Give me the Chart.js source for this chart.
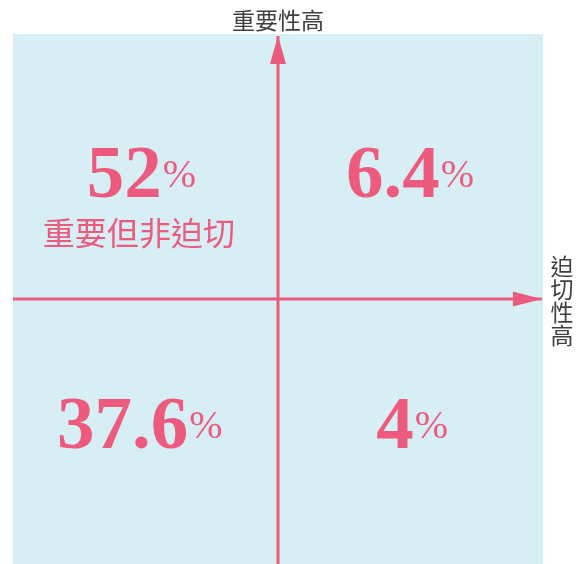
<!DOCTYPE html>
<html>
<head>
<meta charset="utf-8">
<script src="https://cdn.jsdelivr.net/npm/chart.js@4"></script>
<style>
  html, body { margin: 0; padding: 0; background: #ffffff; }
  #wrap { width: 579px; height: 564px; }
</style>
</head>
<body>
<div id="wrap"><canvas id="c" width="579" height="564"></canvas></div>
<script>
// ---- data ----
const quadrantValues = ['52', '6.4', '37.6', '4'];      // top-left, top-right, bottom-left, bottom-right
const quadrantUnit = '%';
const quadrantNote = ['重要但非迫切', '', '', ''];
const yAxisTitle = '重要性高';
const xAxisTitle = '迫切性高';
const horizontalAxisPts = [{x: -1, y: 0}, {x: 0.996, y: 0}];
const verticalAxisPts = [{x: 0, y: -1}, {x: 0, y: 0.992}];

const PINK = '#ec5a7e';
const BLUE = '#d7eef4';
const DARK = '#3f3f3f';

const bgPlugin = {
  id: 'bg',
  beforeDraw(chart) {
    const {ctx, chartArea: a} = chart;
    ctx.save();
    ctx.fillStyle = BLUE;
    ctx.fillRect(a.left, a.top, a.right - a.left, a.bottom - a.top);
    ctx.restore();
  }
};

const arrowPlugin = {
  id: 'arrows',
  afterDatasetsDraw(chart) {
    const ctx = chart.ctx;
    ctx.save();
    ctx.fillStyle = PINK;
    // horizontal arrow (dataset 0) - points right
    const h = chart.getDatasetMeta(0).data;
    const hp = h[h.length - 1];
    ctx.beginPath();
    ctx.moveTo(hp.x, hp.y);
    ctx.lineTo(hp.x - 29, hp.y - 7.5);
    ctx.lineTo(hp.x - 29, hp.y + 7.5);
    ctx.closePath();
    ctx.fill();
    // vertical arrow (dataset 1) - points up
    const v = chart.getDatasetMeta(1).data;
    const vp = v[v.length - 1];
    ctx.beginPath();
    ctx.moveTo(vp.x, vp.y);
    ctx.lineTo(vp.x - 8, vp.y + 28);
    ctx.lineTo(vp.x + 8, vp.y + 28);
    ctx.closePath();
    ctx.fill();
    ctx.restore();
  }
};

const textPlugin = {
  id: 'quadText',
  afterDraw(chart, args, opts) {
    const ctx = chart.ctx;
    const xs = chart.scales.x, ys = chart.scales.y;
    ctx.save();
    // quadrant numbers
    quadrantValues.forEach((val, i) => {
      const cx = xs.getPixelForValue(opts.cx[i]);
      const by = ys.getPixelForValue(opts.by[i]);
      ctx.font = 'bold 75px "Liberation Serif", "Times New Roman", serif';
      const w1 = ctx.measureText(val).width;
      ctx.font = '40px "Liberation Serif", "Times New Roman", serif';
      const w2 = ctx.measureText(quadrantUnit).width;
      const total = w1 + 1 + w2;
      const sx = cx - total / 2;
      ctx.fillStyle = PINK;
      ctx.textAlign = 'left';
      ctx.textBaseline = 'alphabetic';
      ctx.font = 'bold 75px "Liberation Serif", "Times New Roman", serif';
      ctx.fillText(val, sx, by);
      ctx.font = '40px "Liberation Serif", "Times New Roman", serif';
      ctx.fillText(quadrantUnit, sx + w1 + 1, by - 10);
      if (quadrantNote[i]) {
        ctx.font = '32px "Noto Sans CJK TC", "Noto Sans CJK SC", sans-serif';
        ctx.textAlign = 'center';
        ctx.textBaseline = 'middle';
        ctx.fillText(quadrantNote[i], xs.getPixelForValue(opts.noteX[i]), ys.getPixelForValue(opts.noteY[i]));
      }
    });
    // axis titles
    ctx.fillStyle = DARK;
    ctx.font = '23px "Noto Sans CJK TC", "Noto Sans CJK SC", sans-serif';
    ctx.textAlign = 'center';
    ctx.textBaseline = 'middle';
    ctx.fillText(yAxisTitle, xs.getPixelForValue(0), 20);
    const rx = chart.chartArea.right + 19;
    const y0 = ys.getPixelForValue(0);
    const chars = Array.from(xAxisTitle);
    chars.forEach((ch, i) => {
      ctx.fillText(ch, rx, y0 + 2 + (i - (chars.length - 1) / 2) * 23);
    });
    ctx.restore();
  }
};

new Chart(document.getElementById('c'), {
  type: 'scatter',
  data: {
    datasets: [
      { data: horizontalAxisPts, showLine: true, borderColor: PINK, borderWidth: 3, pointRadius: 0, pointHoverRadius: 0 },
      { data: verticalAxisPts, showLine: true, borderColor: PINK, borderWidth: 3, pointRadius: 0, pointHoverRadius: 0 }
    ]
  },
  options: {
    responsive: false,
    animation: false,
    devicePixelRatio: 1,
    layout: { padding: { left: 13, right: 36, top: 34, bottom: 0 } },
    scales: {
      x: { type: 'linear', min: -1, max: 1, display: false },
      y: { type: 'linear', min: -1, max: 1, display: false }
    },
    plugins: {
      legend: { display: false },
      tooltip: { enabled: false },
      quadText: {
        cx: [-0.515, 0.498, -0.522, 0.506],
        by: [0.385, 0.385, -0.562, -0.562],
        noteX: [-0.525, 0, 0, 0],
        noteY: [0.251, 0, 0, 0]
      }
    }
  },
  plugins: [bgPlugin, arrowPlugin, textPlugin]
});
</script>
</body>
</html>
